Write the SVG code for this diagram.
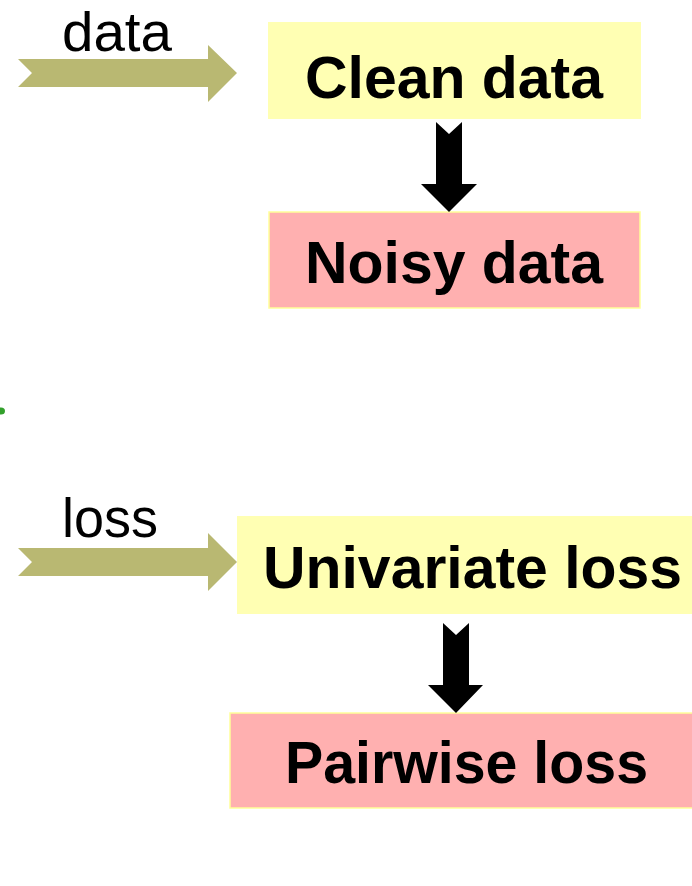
<svg xmlns="http://www.w3.org/2000/svg" width="692" height="886" viewBox="0 0 692 886">
  <style>
    .box-clean { fill: #FFFFB3; }
    .box-noisy { fill: #FFB0B0; stroke: #FFFF99; stroke-width: 1.5; }
    .label { font-family: "Liberation Sans", Arial, sans-serif; font-weight: bold; font-size: 60px; fill: #000; }
    .tag { font-family: "Liberation Sans", Arial, sans-serif; font-size: 55px; fill: #000; }
    .feed { fill: #B9B872; }
    .step { fill: #000; }
  </style>
  <rect width="692" height="886" fill="#ffffff"/>

  <!-- input labels -->
  <text class="tag" x="62" y="51" textLength="110" lengthAdjust="spacingAndGlyphs">data</text>
  <text class="tag" x="62" y="537" textLength="96" lengthAdjust="spacingAndGlyphs">loss</text>

  <!-- nodes -->
  <g id="clean-data">
    <rect class="box-clean" x="268" y="22" width="373" height="97"/>
    <text class="label" x="305" y="98" textLength="298" lengthAdjust="spacingAndGlyphs">Clean data</text>
  </g>
  <g id="noisy-data">
    <rect class="box-noisy" x="269" y="212" width="371" height="96"/>
    <text class="label" x="305" y="283" textLength="298" lengthAdjust="spacingAndGlyphs">Noisy data</text>
  </g>
  <g id="univariate-loss">
    <rect class="box-clean" x="237" y="516" width="460" height="98"/>
    <text class="label" x="263" y="588" textLength="419" lengthAdjust="spacingAndGlyphs">Univariate loss</text>
  </g>
  <g id="pairwise-loss">
    <rect class="box-noisy" x="230" y="713" width="470" height="95"/>
    <text class="label" x="285" y="783" textLength="363" lengthAdjust="spacingAndGlyphs">Pairwise loss</text>
  </g>

  <!-- connectors -->
  <g id="connectors">
    <polygon class="feed" points="18,59 208,59 208,45 237,73 208,102 208,87 18,87 32,73"/>
    <polygon class="feed" points="18,548 208,548 208,533 237,562 208,591 208,576 18,576 32,562"/>
    <polygon class="step" points="436,122 449,134 462,122 462,184 477,184 449,212 421,184 436,184"/>
    <polygon class="step" points="443,623 456,635 469,623 469,685 483,685 456,713 428,685 443,685"/>
  </g>

  <!-- small green mark at the left edge -->
  <ellipse cx="1" cy="411" rx="4" ry="3.5" fill="#33A02C"/>
</svg>
